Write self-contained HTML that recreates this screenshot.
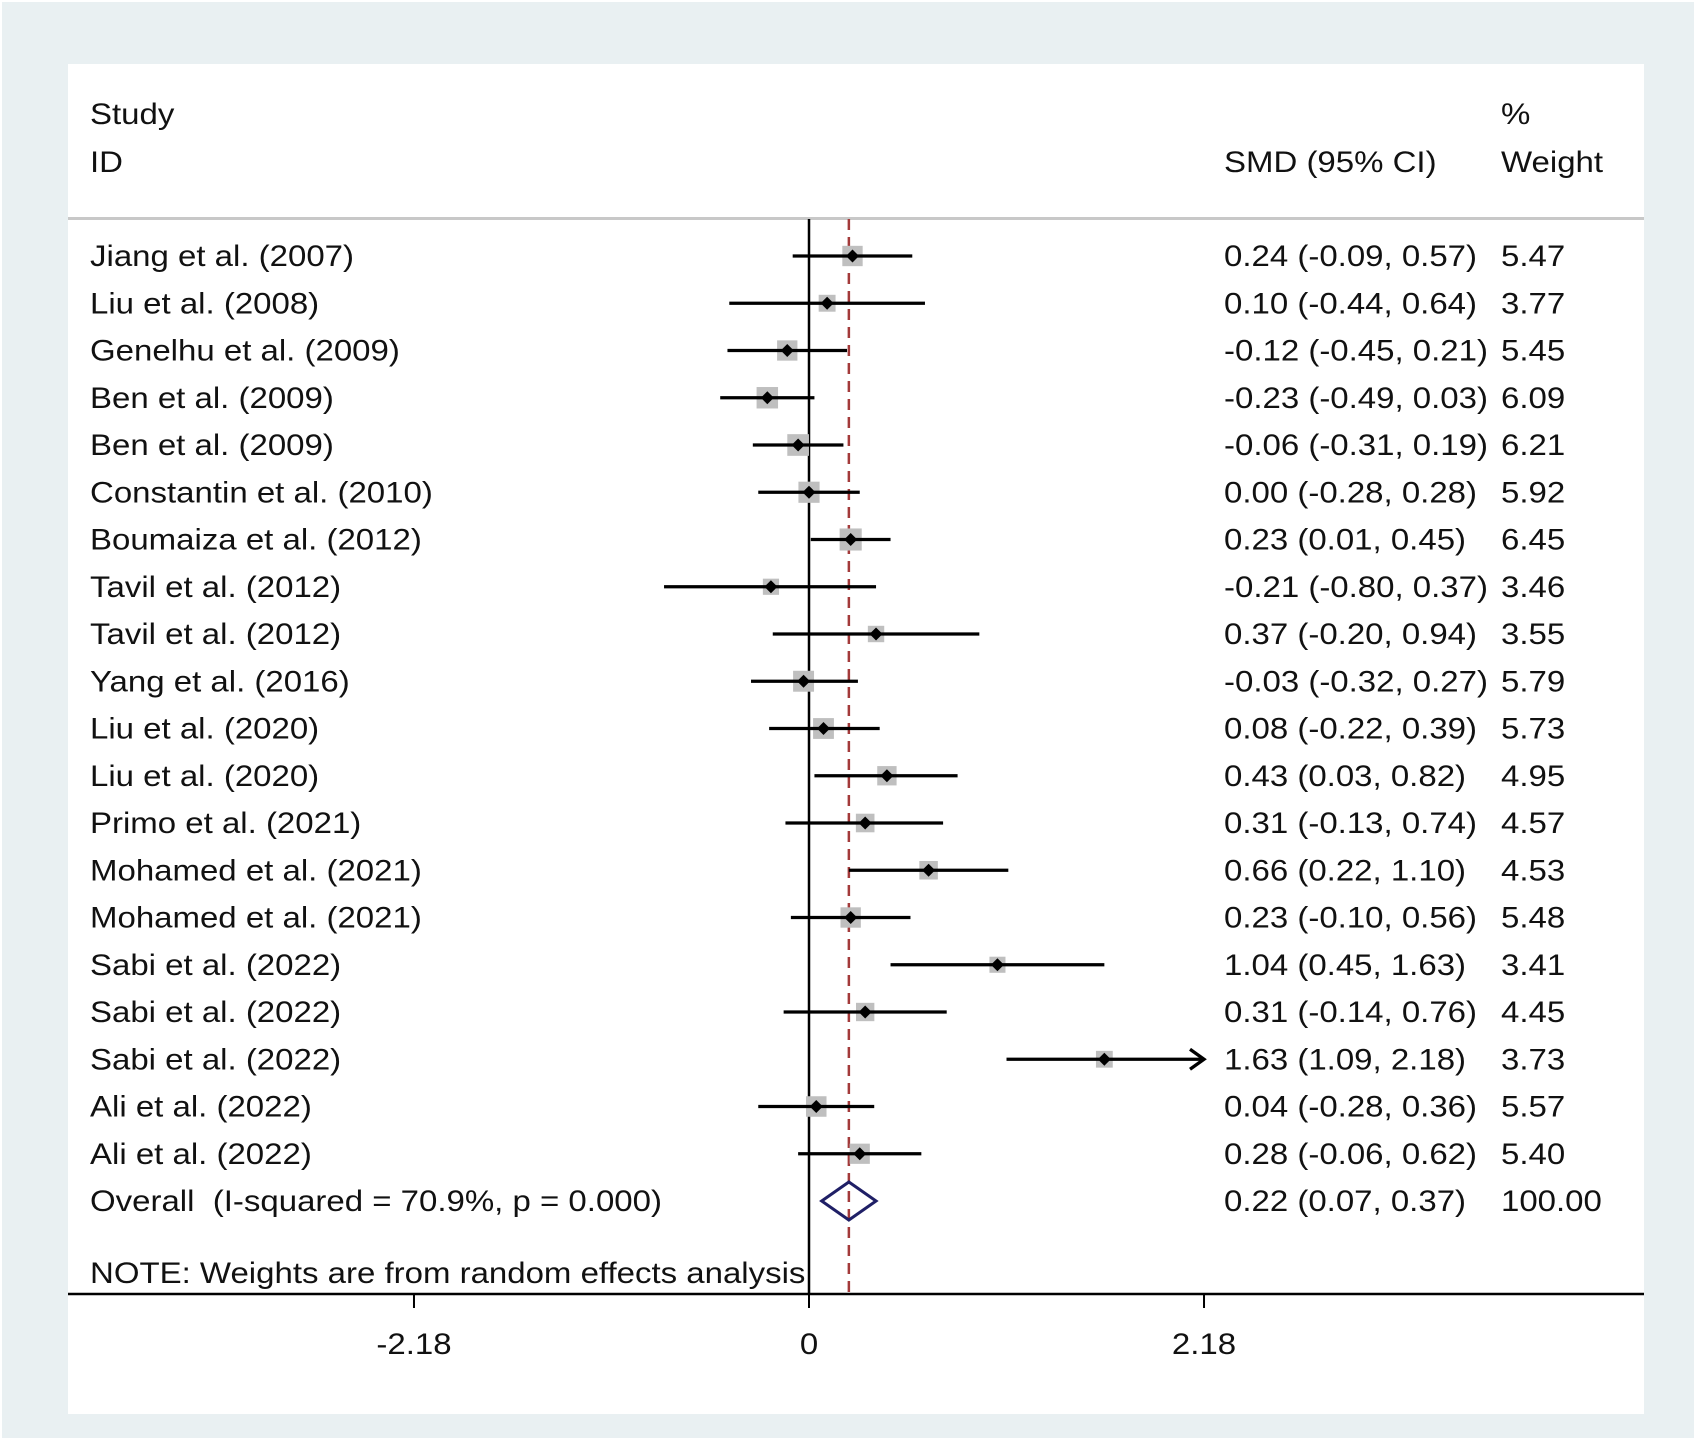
<!DOCTYPE html>
<html><head><meta charset="utf-8"><style>
html,body{margin:0;padding:0;background:#fff}
svg{display:block}
text{font-family:"Liberation Sans",Arial,sans-serif;font-size:30px;fill:#111;white-space:pre}
</style></head><body>
<svg id="chart" width="1696" height="1440">
<rect x="2" y="2" width="1692" height="1436" fill="#e9f0f2"/>
<rect x="68" y="64" width="1576" height="1350" fill="#fff"/>
<text transform="translate(90,124) scale(1.1,1)">Study</text>
<text transform="translate(90,172) scale(1.1,1)">ID</text>
<text transform="translate(1224,172) scale(1.1,1)">SMD (95% CI)</text>
<text transform="translate(1501,124) scale(1.1,1)">%</text>
<text transform="translate(1501,172) scale(1.1,1)">Weight</text>
<rect x="68" y="217" width="1576" height="3" fill="#c8c8c8"/>
<g id="marks"></g>
</svg>
<script>
const studies=["Jiang et al. (2007)","Liu et al. (2008)","Genelhu et al. (2009)","Ben et al. (2009)","Ben et al. (2009)","Constantin et al. (2010)","Boumaiza et al. (2012)","Tavil et al. (2012)","Tavil et al. (2012)","Yang et al. (2016)","Liu et al. (2020)","Liu et al. (2020)","Primo et al. (2021)","Mohamed et al. (2021)","Mohamed et al. (2021)","Sabi et al. (2022)","Sabi et al. (2022)","Sabi et al. (2022)","Ali et al. (2022)","Ali et al. (2022)"];
const smd=[0.24,0.10,-0.12,-0.23,-0.06,0.00,0.23,-0.21,0.37,-0.03,0.08,0.43,0.31,0.66,0.23,1.04,0.31,1.63,0.04,0.28];
const lower=[-0.09,-0.44,-0.45,-0.49,-0.31,-0.28,0.01,-0.80,-0.20,-0.32,-0.22,0.03,-0.13,0.22,-0.10,0.45,-0.14,1.09,-0.28,-0.06];
const upper=[0.57,0.64,0.21,0.03,0.19,0.28,0.45,0.37,0.94,0.27,0.39,0.82,0.74,1.10,0.56,1.63,0.76,2.18,0.36,0.62];
const weights=[5.47,3.77,5.45,6.09,6.21,5.92,6.45,3.46,3.55,5.79,5.73,4.95,4.57,4.53,5.48,3.41,4.45,3.73,5.57,5.40];
const overall=[0.22,0.07,0.37];
const overallLabel="Overall  (I-squared = 70.9%, p = 0.000)";
const ticks=[-2.18,0,2.18];
const tickLabels=["-2.18","0","2.18"];
const axisMax=2.18;

const NS="http://www.w3.org/2000/svg";
const g=document.getElementById("marks");
const X=v=>809+v*181.2;
const Y=i=>256+i*47.25;
function mk(t,a){const e=document.createElementNS(NS,t);for(const k in a)e.setAttribute(k,a[k]);g.appendChild(e);return e;}
function txt(x,y,s,anchor){const e=mk("text",{transform:`translate(${x},${y}) scale(1.1,1)`});if(anchor)e.setAttribute("text-anchor",anchor);e.textContent=s;return e;}
const fmt=v=>v.toFixed(2);

let z=mk("line",{x1:X(0),x2:X(0),y1:219,y2:1293,stroke:"#000","stroke-width":2.5});


let d=mk("line",{x1:X(overall[0]),x2:X(overall[0]),y1:219,y2:1293,stroke:"#a33a3a","stroke-width":2.5,"stroke-dasharray":"11,7"});



studies.forEach((s,i)=>{
  const y=Y(i);
  const side=8.7*Math.sqrt(weights[i]);
  let b=mk("rect",{x:X(smd[i])-side/2,y:y-side/2,width:side,height:side,fill:"#bfbfbf"});
  
  
  const hi=Math.min(upper[i],axisMax);
  let l=mk("line",{x1:X(lower[i]),x2:X(hi),y1:y,y2:y,stroke:"#000","stroke-width":3.3});
  
  
  if(upper[i]>=axisMax){
    let a=mk("polyline",{points:`${X(hi)-14},${y-10} ${X(hi)},${y} ${X(hi)-14},${y+10}`,fill:"none",stroke:"#000","stroke-width":3.3});
    
    
  }
  let p=mk("polygon",{points:`${X(smd[i])-6.5},${y} ${X(smd[i])},${y-6.5} ${X(smd[i])+6.5},${y} ${X(smd[i])},${y+6.5}`,fill:"#000"});
  
  
  let t=txt(90,y+10,s);
  
  
  let c=txt(1224,y+10,`${fmt(smd[i])} (${fmt(lower[i])}, ${fmt(upper[i])})`);
  
  
  let w=txt(1501,y+10,fmt(weights[i]));
  
  
});
const oy=1201;
let dm=mk("polygon",{points:`${X(overall[1])},${oy} ${X(overall[0])},${oy-19} ${X(overall[2])},${oy} ${X(overall[0])},${oy+19}`,fill:"none",stroke:"#1f1f66","stroke-width":3});


let ot=txt(90,oy+10,overallLabel);


let oc=txt(1224,oy+10,`${fmt(overall[0])} (${fmt(overall[1])}, ${fmt(overall[2])})`);


let ow=txt(1501,oy+10,"100.00");


let nt=txt(90,1283,"NOTE: Weights are from random effects analysis");


let ax=mk("line",{x1:68,x2:1644,y1:1294,y2:1294,stroke:"#000","stroke-width":2.5});


ticks.forEach((v,i)=>{
  let tk=mk("line",{x1:X(v),x2:X(v),y1:1294,y2:1308,stroke:"#000","stroke-width":2});
  
  
  let tl=txt(X(v),1354,tickLabels[i],"middle");
  
  
});
</script>
</body></html>
